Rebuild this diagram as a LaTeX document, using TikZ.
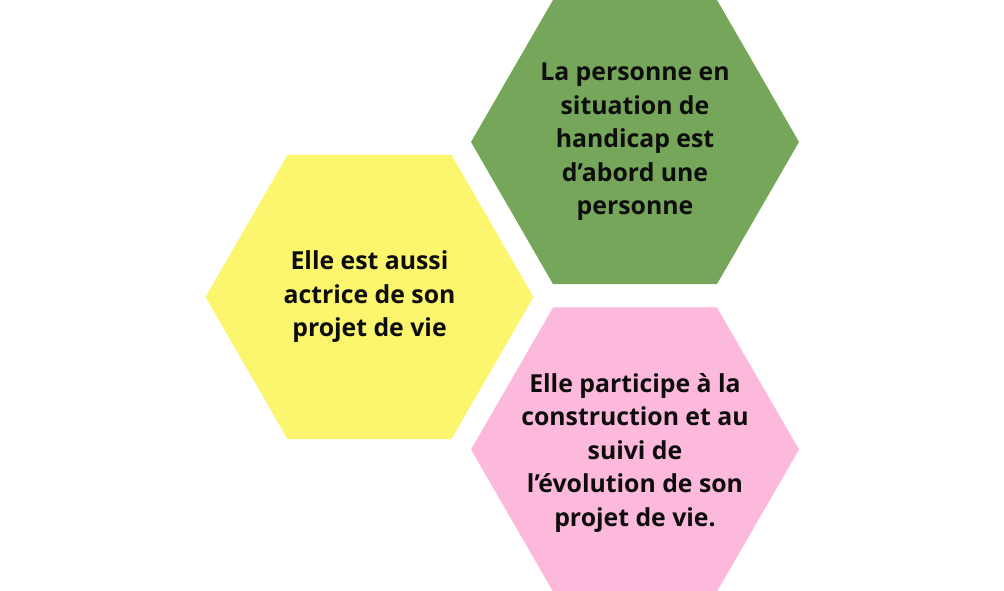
\documentclass[tikz,border=0pt]{standalone}
\usepackage{fontspec}
\setmainfont{Open Sans}
\usetikzlibrary{positioning,shapes.geometric}

\definecolor{hexgreen}{RGB}{118,166,89}
\definecolor{hexyellow}{RGB}{252,246,110}
\definecolor{hexpink}{RGB}{253,185,219}

\begin{document}
\begin{tikzpicture}[
  x=1pt, y=-1pt,
  hex/.style={regular polygon, regular polygon sides=6, minimum size=328pt,
    inner sep=0pt, draw=none},
  txt/.style={align=center, font=\fontsize{24.8}{33.5}\selectfont\bfseries,
    text=black!95}
]
\useasboundingbox (0,0) rectangle (1004,591);

\node[hex, fill=hexgreen] (personne) at (635,142) {};
\node[hex, fill=hexpink, below=23pt of personne] (suivi) {};
\node[hex, fill=hexyellow] (actrice) at (369.5,297) {};

\node[txt] (tpersonne) at (personne) {La personne en\\situation de\\handicap est\\d’abord une\\personne};
\node[txt] (tactrice) at (actrice) {Elle est aussi\\actrice de son\\projet de vie};
\node[txt] (tsuivi) at ([yshift=-3pt]suivi) {Elle participe à la\\construction et au\\suivi de\\l’évolution de son\\projet de vie.};

\end{tikzpicture}
\end{document}
